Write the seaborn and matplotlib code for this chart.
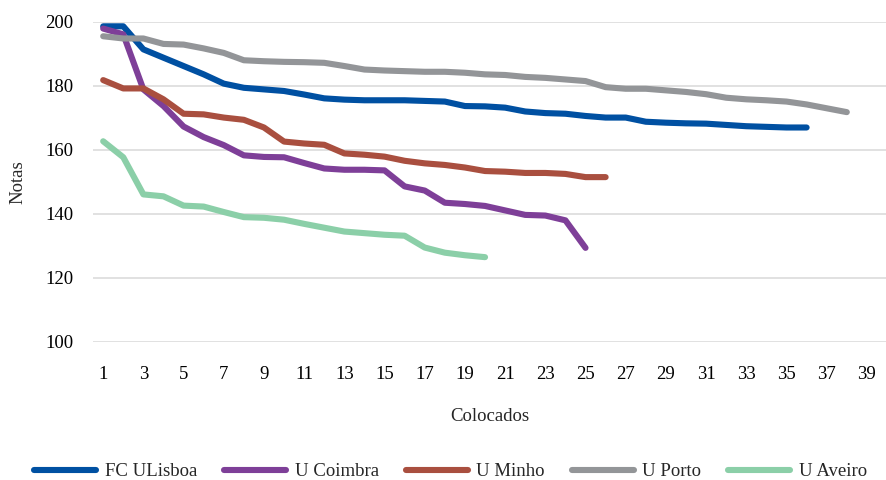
import pandas as pd
import matplotlib.pyplot as plt
import seaborn as sns

# values
fc_ulisboa = [198.6, 198.6, 191.4, 188.8, 186.2, 183.6, 180.7, 179.4, 178.9, 178.4,
              177.3, 176.1, 175.7, 175.5, 175.5, 175.5, 175.3, 175.1, 173.7, 173.6,
              173.2, 172.0, 171.5, 171.3, 170.6, 170.1, 170.1, 168.8, 168.5, 168.3,
              168.2, 167.8, 167.4, 167.2, 167.0, 167.0]
u_coimbra = [197.9, 196.1, 178.9, 173.7, 167.3, 164.0, 161.5, 158.3, 157.8, 157.7,
             155.9, 154.2, 153.8, 153.8, 153.6, 148.6, 147.3, 143.5, 143.1, 142.5,
             141.1, 139.7, 139.5, 138.0, 129.4]
u_minho = [181.8, 179.2, 179.2, 175.8, 171.3, 171.1, 170.1, 169.4, 167.0, 162.6,
           162.0, 161.6, 158.9, 158.5, 157.9, 156.6, 155.8, 155.3, 154.5, 153.4,
           153.2, 152.8, 152.8, 152.5, 151.5, 151.5]
u_porto = [195.5, 194.8, 194.8, 193.1, 192.9, 191.7, 190.3, 188.0, 187.7, 187.5,
           187.4, 187.2, 186.2, 185.1, 184.8, 184.6, 184.4, 184.4, 184.1, 183.6,
           183.4, 182.8, 182.5, 182.0, 181.5, 179.6, 179.1, 179.1, 178.6, 178.1,
           177.4, 176.3, 175.8, 175.5, 175.1, 174.2, 173.0, 171.8]
u_aveiro = [162.7, 157.7, 146.1, 145.5, 142.6, 142.3, 140.6, 139.0, 138.8, 138.2,
            136.9, 135.7, 134.5, 134.0, 133.5, 133.2, 129.5, 127.9, 127.1, 126.5]

series = {
    "FC ULisboa": fc_ulisboa,
    "U Coimbra": u_coimbra,
    "U Minho": u_minho,
    "U Porto": u_porto,
    "U Aveiro": u_aveiro,
}
colors = ["#0050A2", "#7E3F98", "#A94F3F", "#939598", "#8BCFA8"]

frames = []
for name, vals in series.items():
    frames.append(pd.DataFrame({"Colocados": range(1, len(vals) + 1),
                                "Notas": vals, "Escola": name}))
data = pd.concat(frames, ignore_index=True)

sns.set_style("white")
plt.rcParams["font.family"] = ["Liberation Serif", "DejaVu Serif"]

f = plt.figure(figsize=(8.87, 4.8), dpi=100)
ax = f.add_axes([0.105, 0.2875, 0.895, 0.667])

sns.lineplot(data=data, x="Colocados", y="Notas", hue="Escola",
             palette=colors, linewidth=4.4, ax=ax, legend=True)
for line in ax.get_lines():
    line.set_solid_capstyle("round")
    line.set_clip_on(False)

ax.set_xlim(0.5, 40.0)
ax.set_ylim(100, 200)
ax.set_xticks(range(1, 40, 2))
ax.set_yticks(range(100, 201, 20))
ax.grid(axis="y", color="#D9D9D9", linewidth=1.1)
ax.set_axisbelow(True)
for s in ax.spines.values():
    s.set_visible(False)
ax.tick_params(axis="both", length=0, labelsize=13.5, colors="#000000")
ax.tick_params(axis="x", pad=17)
ax.tick_params(axis="y", pad=14)
ax.set_xlabel("Colocados", fontsize=13.5, labelpad=18)
ax.set_ylabel("Notas", fontsize=13.5, labelpad=14)

handles, labels = ax.get_legend_handles_labels()
for h in handles:
    h.set_linewidth(4.4)
    h.set_solid_capstyle("round")
ax.legend(handles, labels, loc="center", bbox_to_anchor=(0.508, 0.017),
          bbox_transform=f.transFigure, ncol=5, frameon=False, fontsize=13.5,
          handlelength=3.3, handletextpad=0.45, columnspacing=1.45)

f.savefig("out.png")
